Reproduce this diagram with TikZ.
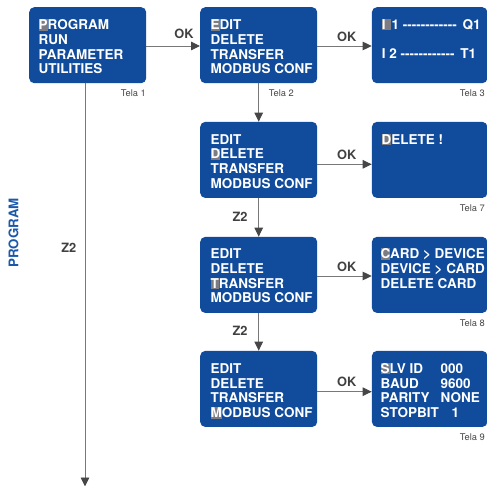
\documentclass[tikz,border=0pt]{standalone}
\usepackage{fontspec}
\setmainfont{TeX Gyre Heros}
\usetikzlibrary{arrows.meta}
\definecolor{boxblue}{RGB}{16,75,156}
\definecolor{hlgray}{RGB}{124,124,130}
\definecolor{linegray}{RGB}{120,120,120}
\definecolor{arrowgray}{RGB}{70,70,70}
\definecolor{labgray}{RGB}{64,64,64}
\definecolor{telagray}{RGB}{70,70,70}
\definecolor{progblue}{RGB}{28,88,170}
\newcommand\hlc[1]{\setbox0=\hbox{#1}\rlap{\textcolor{hlgray}{\rule[-1pt]{\wd0}{11.2pt}}}#1}
\newcommand\hlw[2]{\rlap{\textcolor{hlgray}{\rule[-1pt]{#2}{11.2pt}}}#1}
\newcommand\fl{\rule{0pt}{10.2pt}}
\newcommand\dsh{-{}-{}-{}-{}-{}-{}-{}-{}-{}-{}-{}-}
\tikzset{
  screen/.style={fill=boxblue, rounded corners=5pt, minimum width=117pt, minimum height=76pt, anchor=north west, inner sep=0pt, draw=none},
  scrtext/.style={anchor=north west, inner sep=0pt, align=left, text=white, font=\fontsize{13.5}{14.7}\selectfont\bfseries},
  tela/.style={anchor=base east, inner sep=0pt, text=telagray, font=\fontsize{9.3}{11}\selectfont},
  oklab/.style={anchor=base, inner sep=0pt, text=labgray, font=\fontsize{12.8}{14}\selectfont\bfseries},
  conn/.style={draw=linegray, line width=0.9pt, -{Triangle[length=9pt,width=8.5pt,color=arrowgray]}}
}
\begin{document}
\begin{tikzpicture}[x=1pt,y=-1pt]
\useasboundingbox (0,0) rectangle (487,486);
\begin{scope}
\clip (0,0) rectangle (487,486);
% column 1
\node[screen] (b1) at (29,7) {};
\node[scrtext] (t1) at (38.5,19.3) {\hlc{P}ROGRAM\\RUN\\PARAMETER\\UTILITIES};
% column 2
\node[screen] (b2) at (200,7) {};
\node[scrtext] (t2) at (210.5,19.3) {\hlc{E}DIT\\DELETE\\TRANSFER\\MODBUS CONF};
\node[screen] (b4) at (200,121.7) {};
\node[scrtext] (t4) at (210.5,133.8) {\fl EDIT\\\hlc{D}ELETE\\TRANSFER\\MODBUS CONF};
\node[screen] (b5) at (200,236.7) {};
\node[scrtext] (t5) at (210.5,248.3) {\fl EDIT\\DELETE\\\hlc{T}RANSFER\\MODBUS CONF};
\node[screen] (b6) at (200,350.7) {};
\node[scrtext] (t6) at (210.5,363) {\fl EDIT\\DELETE\\TRANSFER\\\hlc{M}ODBUS CONF};
% column 3
\node[screen, minimum width=115.5pt] (b3) at (371.7,7) {};
\node[scrtext] (t3) at (381.7,19) {\hlw{I}{9.5pt}\hspace{6pt}1 \dsh{}\hspace{2pt} Q1\\[14.3pt]I 2 \dsh{}\hspace{2pt} T1};
\node[screen, minimum width=115.5pt] (b7) at (371.7,121.7) {};
\node[scrtext] (t7) at (381.5,133.8) {\hlc{D}ELETE !};
\node[screen, minimum width=115.5pt] (b8) at (371.7,236.7) {};
\node[scrtext] (t8) at (380.5,248.3) {\hlc{C}ARD > DEVICE\\DEVICE > CARD\\DELETE CARD};
\node[screen, minimum width=115.5pt] (b9) at (371.7,350.7) {};
\node[scrtext] (t9) at (380.5,363) {\makebox[60pt][l]{\hlc{S}LV ID}000\\\makebox[60pt][l]{BAUD}9600\\\makebox[60pt][l]{PARITY}NONE\\\makebox[71pt][l]{STOPBIT}1};
\end{scope}
% Tela labels
\node[tela] (l1) at (146,96.8) {Tela 1};
\node[tela] (l2) at (294,96.8) {Tela 2};
\node[tela] (l3) at (485,96.8) {Tela 3};
\node[tela] (l7) at (485,211.3) {Tela 7};
\node[tela] (l8) at (485,326) {Tela 8};
\node[tela] (l9) at (485,440.5) {Tela 9};
% horizontal connectors
\draw[conn] (b1.east |- 0,46) -- (b2.west |- 0,46);
\node[oklab] (ok1) at (184,38.3) {OK};
\draw[conn] (b2.east |- 0,46) -- (b3.west |- 0,46);
\node[oklab] (ok2) at (346.7,41.7) {OK};
\draw[conn] (b4.east |- 0,164.3) -- (b7.west |- 0,164.3);
\node[oklab] (ok3) at (346.7,160) {OK};
\draw[conn] (b5.east |- 0,276) -- (b8.west |- 0,276);
\node[oklab] (ok4) at (346.7,271.7) {OK};
\draw[conn] (b6.east |- 0,391.7) -- (b9.west |- 0,391.7);
\node[oklab] (ok5) at (346.7,386.7) {OK};
% vertical connectors
\draw[conn] (b2.south) -- (b4.north);
\draw[conn] (b4.south) -- (b5.north);
\draw[conn] (b5.south) -- (b6.north);
\coordinate (endp) at (85,486.5);
\draw[conn] (b1.south -| endp) -- (endp);
% Z2 labels
\node[oklab] (z1) at (68.8,252.7) {Z2};
\node[oklab] (z2) at (240,221.5) {Z2};
\node[oklab] (z3) at (240,335.5) {Z2};
% side label
\node[rotate=90, inner sep=0pt, text=progblue, font=\fontsize{13.3}{14}\selectfont\bfseries] (prog) at (13.5,232.8) {PROGRAM};
\end{tikzpicture}
\end{document}
